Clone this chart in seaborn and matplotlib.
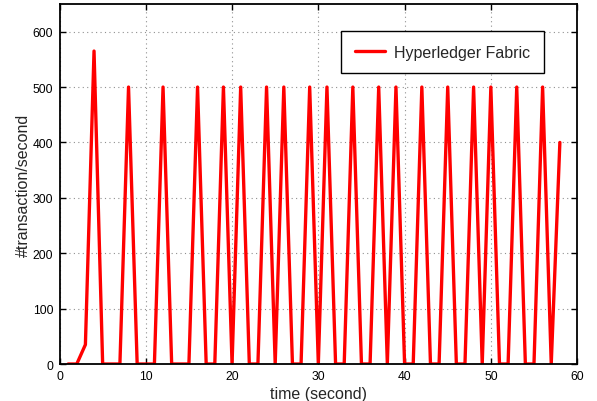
import pandas as pd
import matplotlib
matplotlib.use("Agg")
import matplotlib.pyplot as plt
import seaborn as sns

# transactions per second
seconds = list(range(1, 59))
tps = [0, 0, 35, 565, 0, 0, 0, 500, 0, 0,
       0, 500, 0, 0, 0, 500, 0, 0, 500, 0,
       500, 0, 0, 500, 0, 500, 0, 0, 500, 0,
       500, 0, 0, 500, 0, 0, 500, 0, 500, 0,
       0, 500, 0, 0, 500, 0, 0, 500, 0, 500,
       0, 0, 500, 0, 0, 500, 0, 400]
series_name = "Hyperledger Fabric"
x_ticks = [0, 10, 20, 30, 40, 50, 60]
y_ticks = [0, 100, 200, 300, 400, 500, 600]

df = pd.DataFrame({"time": seconds, "tps": tps, "series": series_name})

sns.set_theme(style="white")
plt.rcParams["font.family"] = ["Liberation Sans", "DejaVu Sans"]

fig = plt.figure(figsize=(5.97, 4.02), dpi=100)
ax = fig.add_axes([0.0997, 0.092, 0.867, 0.8956])

sns.lineplot(data=df, x="time", y="tps", hue="series", palette=["#ff0000"],
             linewidth=2.4, ax=ax)

ax.set_xlim(0, 60)
ax.set_ylim(0, 650)
ax.set_xticks(x_ticks)
ax.set_yticks(y_ticks)
ax.set_xlabel("time (second)", fontsize=11.5, labelpad=3)
ax.set_ylabel("#transaction/second", fontsize=11.5, labelpad=1)

ax.grid(True, linestyle=(0, (1, 3)), color="#909090", linewidth=0.8)
ax.tick_params(axis="both", direction="in", length=4, width=1, labelsize=8.7,
               top=True, right=True, bottom=True, left=True, pad=4.5,
               colors="black")
for sp in ax.spines.values():
    sp.set_visible(True)
    sp.set_color("black")
    sp.set_linewidth(1.3)

leg = ax.legend(loc="upper left", bbox_to_anchor=(0.544, 0.925),
                borderaxespad=0, fontsize=11.5, frameon=True, fancybox=False,
                edgecolor="black", framealpha=1, borderpad=0.85,
                handlelength=1.9, handletextpad=0.55)
leg.get_frame().set_linewidth(1.0)
for line in leg.get_lines():
    line.set_linewidth(2.4)

fig.savefig("out.png", dpi=100)
